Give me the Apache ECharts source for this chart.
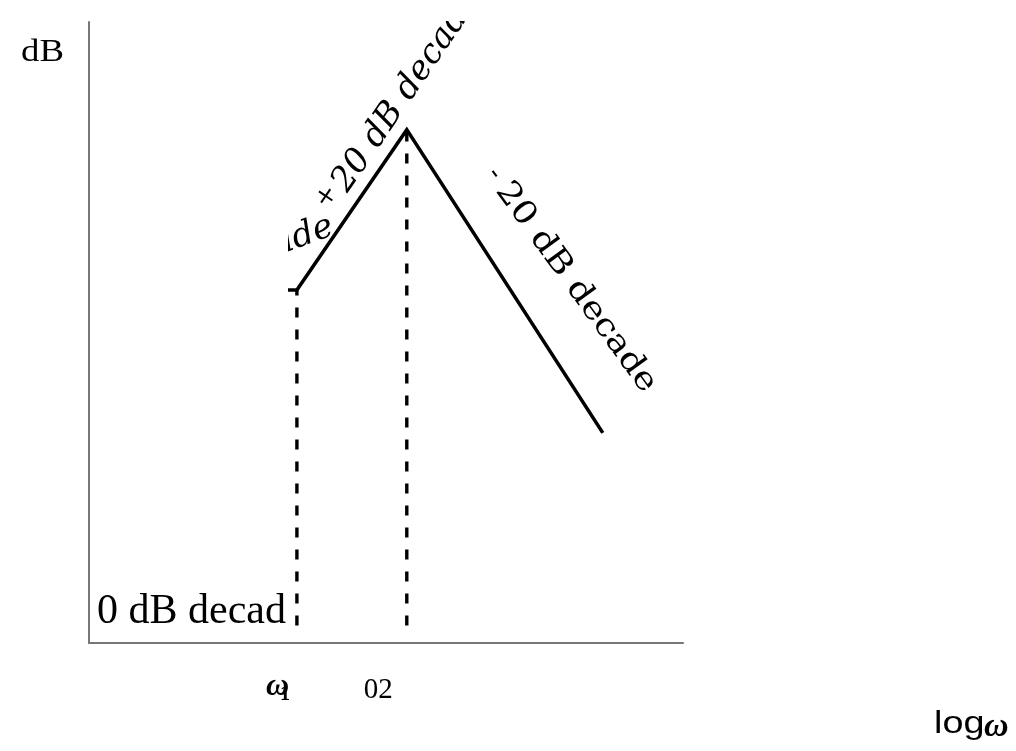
<!DOCTYPE html>
<html>
<head>
<meta charset="utf-8">
<script src="https://cdn.jsdelivr.net/npm/echarts@6/dist/echarts.min.js"></script>
<style>
  html, body { margin: 0; padding: 0; background: #fff; }
  #main { width: 1016px; height: 751px; }
</style>
</head>
<body>
<div id="main"></div>
<script>
// Asymptotic Bode magnitude sketch: x in decades (log ω), y in dB.
const asymX = [2.01, 2.1, 3.21, 5.19];       // stub, ω1, ω2, end of the -20 dB/decade run
const asymY = [34.1, 34.1, 49.6, 20.3];
const dropX = [2.1, 3.21];                    // dashed guides at ω1 and ω2
const dropTop = [34.1, 49.6];
const dropBottom = 1.7;
const tickLabels = ['ω', '1', '02'];
const axisTitles = ['dB', 'log', 'ω'];
const slopeLabels = ['decade', '+', '20 dB decade', '-', '20 dB decade'];
const flatLabel = '0 dB decad';

const chart = echarts.init(document.getElementById('main'), null, { renderer: 'canvas' });

const axisCommon = {
  type: 'value',
  axisLine: { show: true, onZero: false, lineStyle: { color: '#777', width: 2 } },
  axisTick: { show: false },
  axisLabel: { show: false },
  splitLine: { show: false }
};

chart.setOption({
  animation: false,
  backgroundColor: '#fff',
  grid: { left: 89, top: 22, width: 594, height: 621, containLabel: false },
  xAxis: Object.assign({}, axisCommon, { min: 0, max: 6 }),
  yAxis: Object.assign({}, axisCommon, { min: 0, max: 60 }),
  series: [
    {
      type: 'line',
      data: asymX.map((x, i) => [x, asymY[i]]),
      symbol: 'none',
      lineStyle: { color: '#000', width: 3.6, cap: 'butt', join: 'miter' },
      z: 3
    }
  ].concat(dropX.map((x, i) => ({
    type: 'line',
    data: [[x, dropBottom], [x, dropTop[i]]],
    symbol: 'none',
    lineStyle: { color: '#000', width: 3.4, type: [10, 12], cap: 'butt' },
    z: 2
  })))
});

// Slope and axis annotations, placed relative to the plotted breakpoints
const px = p => chart.convertToPixel({ gridIndex: 0 }, p);
const W1 = px([asymX[1], asymY[1]]);
const PK = px([asymX[2], asymY[2]]);

function unit(a, b) {
  const dx = b[0] - a[0], dy = b[1] - a[1];
  const l = Math.hypot(dx, dy);
  return [dx / l, dy / l];
}
// rising segment: direction and upper-left normal
const u1 = unit(W1, PK);
const n1 = [u1[1], -u1[0]];
const rot1 = Math.atan2(-u1[1], u1[0]);
// falling label: runs down-right at a slightly shallower angle than its segment
const rot2 = -54 * Math.PI / 180;
const u2 = [Math.cos(rot2), -Math.sin(rot2)];
const n2 = [u2[1], -u2[0]];                    // upper-right normal

function along(base, u, n, t, h) {
  return [base[0] + t * u[0] + h * n[0], base[1] + t * u[1] + h * n[1]];
}

function txt(pos, text, font, opts) {
  opts = opts || {};
  return {
    type: 'text',
    x: pos[0], y: pos[1],
    rotation: opts.rotation || 0,
    scaleX: opts.scaleX || 1,
    z: 10,
    style: {
      text: text,
      font: font,
      fill: '#000',
      align: opts.align || 'left',
      verticalAlign: 'middle',
      textAlign: opts.align || 'left',
      textVerticalAlign: 'middle'
    }
  };
}

const fs1 = 34;
const mid1 = 0.32 * fs1;
const fs2 = 32;
const start2 = [PK[0] + 91, PK[1] + 59];

const elements = [
  // rising slope label (its leading word is trimmed by the mask below)
  txt(along(W1, u1, n1, 73, 7), slopeLabels[0], 'italic ' + fs1 + 'px "DejaVu Serif"',
      { rotation: 0.35, align: 'right' }),
  txt(along(W1, u1, n1, 94, 28), slopeLabels[1], 'italic 26px "DejaVu Serif"',
      { rotation: rot1, align: 'center' }),
  txt(along(W1, u1, n1, 108, 11 + mid1), slopeLabels[2], 'italic ' + fs1 + 'px "DejaVu Serif"',
      { rotation: rot1 }),
  // falling slope label
  txt(along(start2, u2, n2, -14, 6), slopeLabels[3], '28px "DejaVu Serif"',
      { rotation: rot2, align: 'center' }),
  txt(along(start2, u2, n2, 0, 5), slopeLabels[4], fs2 + 'px "DejaVu Serif"',
      { rotation: rot2, scaleX: 1.14 }),
  // masks that trim the rising label at the frame edges
  { type: 'rect', z: 20, shape: { x: 280, y: 0, width: 420, height: 21 }, style: { fill: '#fff' } },
  { type: 'rect', z: 20, shape: { x: 150, y: 100, width: 138, height: 230 }, style: { fill: '#fff' } },
  // axis titles
  txt([21, 53], axisTitles[0], '32px "Liberation Serif"', { scaleX: 1.15 }),
  txt([934, 724], axisTitles[1], '31px "Liberation Sans"', { scaleX: 1.22 }),
  txt([984, 727], axisTitles[2], 'italic bold 34px "Liberation Serif"', {}),
  // flat-region label
  txt([97, 612], flatLabel, '42px "Liberation Serif"', {}),
  // break frequency labels
  txt([W1[0] - 31, 687], tickLabels[0], 'italic bold 32px "Liberation Serif"', {}),
  txt([W1[0] - 17, 695], tickLabels[1], 'bold 20px "Liberation Serif"', {}),
  txt([PK[0] - 43, 690], tickLabels[2], '29px "Liberation Serif"', {})
];

chart.setOption({ graphic: { elements: elements } });
</script>
</body>
</html>
